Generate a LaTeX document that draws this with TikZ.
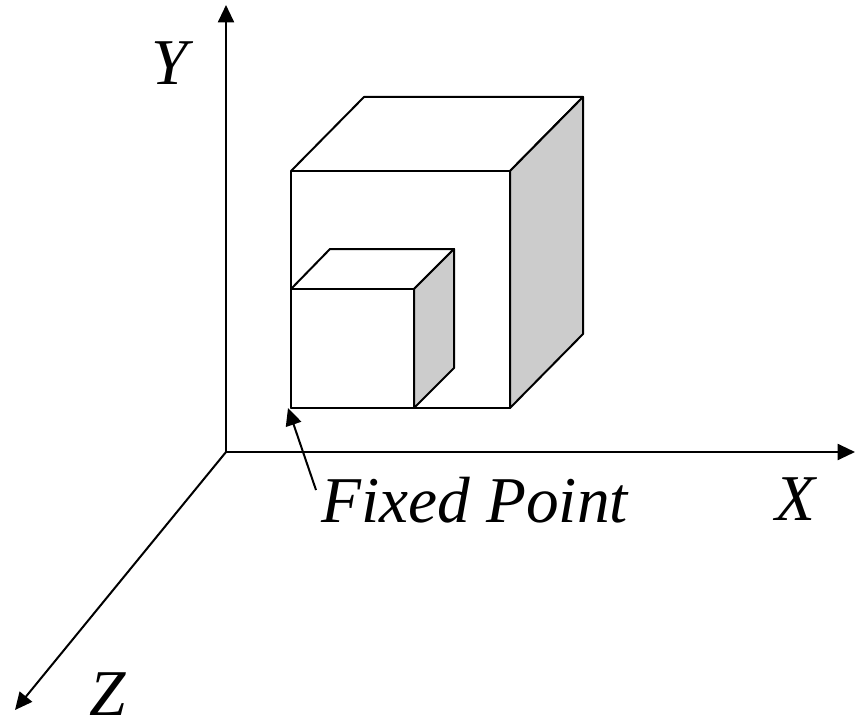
\documentclass[tikz,border=0pt]{standalone}
\usepackage{fontspec}
\setmainfont{Liberation Serif}
\usetikzlibrary{arrows.meta}
\tikzset{
  line/.style={draw=black,line width=1.5pt,line join=round},
  axis/.style={line,-{Triangle[length=13pt,width=12pt]}},
  lab/.style={inner sep=0pt,font=\itshape\fontsize{49}{49}\selectfont,text=black},
  shade/.style={line,fill=black!20}
}
\begin{document}
\begin{tikzpicture}[x=0.75pt,y=-0.75pt]
\useasboundingbox (0,0) rectangle (859,720);
\coordinate (O) at (226,452);
\coordinate (Xe) at (855,452);
\coordinate (Ye) at (226,5);
\coordinate (Ze) at (15,710);
\draw[axis] (O) -- (Xe);
\draw[axis] (O) -- (Ye);
\draw[axis] (O) -- (Ze);
\coordinate (a) at (291,171);
\coordinate (b) at (510,171);
\coordinate (c) at (510,408);
\coordinate (d) at (291,408);
\coordinate (e) at (364,97);
\coordinate (f) at (583,97);
\coordinate (g) at (583,334);
\draw[line] (a) -- (b) -- (c) -- (d) -- cycle;
\draw[line] (a) -- (e) -- (f) -- (b);
\draw[shade] (b) -- (f) -- (g) -- (c) -- cycle;
\coordinate (p) at (291,289);
\coordinate (q) at (414,289);
\coordinate (r) at (414,408);
\coordinate (s) at (330,249);
\coordinate (t) at (454,249);
\coordinate (u) at (454,368);
\draw[line] (p) -- (q) -- (r) -- (d) -- cycle;
\draw[line] (p) -- (s) -- (t) -- (q);
\draw[shade] (q) -- (t) -- (u) -- (r) -- cycle;
\node[lab,anchor=base] (ylab) at (170,85) {Y};
\node[lab,anchor=base] (xlab) at (795,520) {X};
\node[lab,anchor=base] (zlab) at (108,715) {Z};
\node[lab,anchor=base west] (fp) at (321,522) {Fixed Point};
\coordinate (tip) at (288,408);
\coordinate (tail) at (316,490);
\draw[axis] (tail) -- (tip);
\end{tikzpicture}
\end{document}
